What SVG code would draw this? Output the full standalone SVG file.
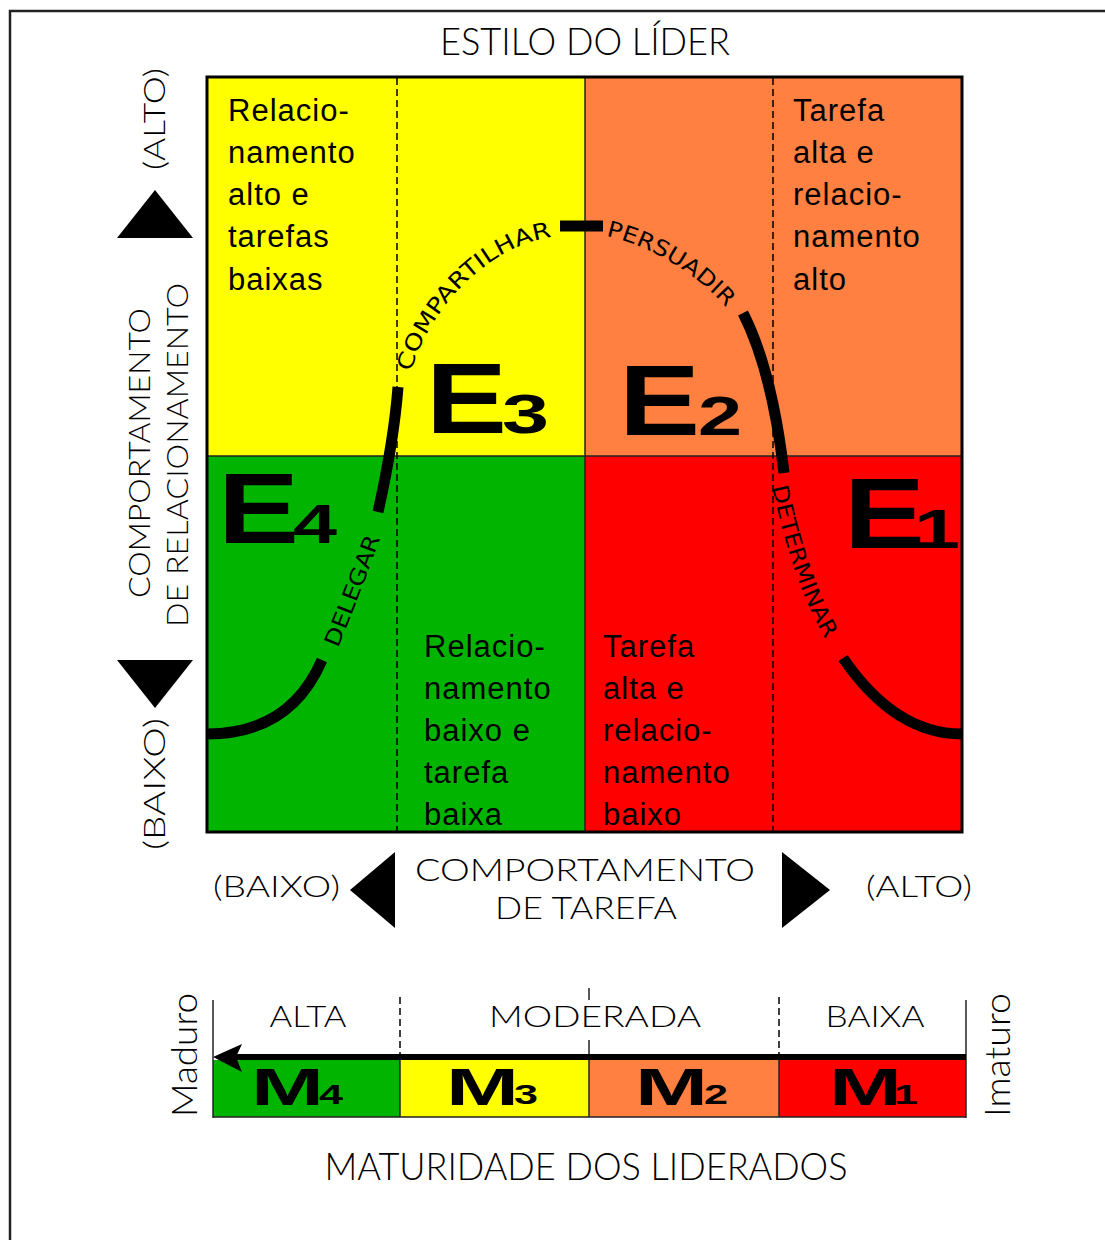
<svg xmlns="http://www.w3.org/2000/svg" width="1105" height="1240" viewBox="0 0 1105 1240">
<style>
.q{font-family:"Liberation Sans",Arial,sans-serif;font-size:31px;letter-spacing:1px;fill:#000}
.thin{font-family:Lato,"Liberation Sans",sans-serif;font-weight:300;fill:#000}
.big{font-family:"Liberation Sans",Arial,sans-serif;font-weight:bold;fill:#000}
.cv{font-family:"Liberation Sans Narrow","DejaVu Sans Condensed","Liberation Sans",sans-serif;font-size:22px;fill:#000}
.curve{fill:none;stroke:#000;stroke-width:11}
.dash{stroke:#000;stroke-width:1.5;stroke-dasharray:7 4}
.div{stroke:#222;stroke-width:1.5}
</style>
<defs>
<path id="pDel" d="M338,648 Q358,600 384,528"/>
<path id="pComp" d="M411,372 C425,320 480,245 558,236"/>
<path id="pPers" d="M606,236 C650,245 700,275 730,312"/>
<path id="pDet" d="M772,487 C785,545 800,600 835,655"/>
</defs>
<rect width="1105" height="1240" fill="#fff"/>
<path d="M10,1240 V11 H1105" fill="none" stroke="#222" stroke-width="2.5"/>
<text class="thin" x="585" y="55" text-anchor="middle" font-size="38" textLength="290" lengthAdjust="spacingAndGlyphs">ESTILO DO LÍDER</text>

<g id="quadrant-e3">
<rect x="207" y="77" width="378" height="379" fill="#FFFF00"/>
<text class="q" x="228"><tspan y="121">Relacio-</tspan><tspan x="228" y="163">namento</tspan><tspan x="228" y="205">alto e</tspan><tspan x="228" y="247">tarefas</tspan><tspan x="228" y="290">baixas</tspan></text>
</g>
<g id="quadrant-e2">
<rect x="585" y="77" width="377" height="379" fill="#FF8040"/>
<text class="q" x="793"><tspan y="121">Tarefa</tspan><tspan x="793" y="163">alta e</tspan><tspan x="793" y="205">relacio-</tspan><tspan x="793" y="247">namento</tspan><tspan x="793" y="290">alto</tspan></text>
</g>
<g id="quadrant-e4">
<rect x="207" y="456" width="378" height="376" fill="#00B400"/>
<text class="q" x="424"><tspan y="657">Relacio-</tspan><tspan x="424" y="699">namento</tspan><tspan x="424" y="741">baixo e</tspan><tspan x="424" y="783">tarefa</tspan><tspan x="424" y="825">baixa</tspan></text>
</g>
<g id="quadrant-e1">
<rect x="585" y="456" width="377" height="376" fill="#FF0000"/>
<text class="q" x="603"><tspan y="657">Tarefa</tspan><tspan x="603" y="699">alta e</tspan><tspan x="603" y="741">relacio-</tspan><tspan x="603" y="783">namento</tspan><tspan x="603" y="825">baixo</tspan></text>
</g>
<g id="grid-lines">
<line class="div" x1="585" y1="77" x2="585" y2="832"/>
<line class="div" x1="207" y1="456" x2="962" y2="456"/>
<line class="dash" x1="397" y1="78" x2="397" y2="831"/>
<line class="dash" x1="773" y1="78" x2="773" y2="831"/>
<rect x="207" y="77" width="755" height="755" fill="none" stroke="#000" stroke-width="3"/>
</g>

<g id="label-e3"><text class="big" x="426" y="433" font-size="100" textLength="81" lengthAdjust="spacingAndGlyphs">E</text><text class="big" x="502" y="433" font-size="56" textLength="47" lengthAdjust="spacingAndGlyphs">3</text></g>
<g id="label-e2"><text class="big" x="619" y="435" font-size="100" textLength="81" lengthAdjust="spacingAndGlyphs">E</text><text class="big" x="698" y="435" font-size="56" textLength="44" lengthAdjust="spacingAndGlyphs">2</text></g>
<g id="label-e4"><text class="big" x="218" y="543" font-size="100" textLength="81" lengthAdjust="spacingAndGlyphs">E</text><text class="big" x="293" y="543" font-size="56" textLength="44" lengthAdjust="spacingAndGlyphs">4</text></g>
<g id="label-e1"><text class="big" x="844" y="548" font-size="100" textLength="81" lengthAdjust="spacingAndGlyphs">E</text><text class="big" x="914" y="548" font-size="56" textLength="46" lengthAdjust="spacingAndGlyphs">1</text></g>

<g id="connectors">
<path class="curve" d="M207,734 Q290,734 322,660"/>
<path class="curve" d="M378,512 Q394,440 398,387"/>
<path class="curve" d="M560,226 L603,226"/>
<path class="curve" d="M743,313 Q772,370 784,473"/>
<path class="curve" d="M843,658 Q895,734 962,734"/>
<text class="cv"><textPath href="#pDel" textLength="118" lengthAdjust="spacingAndGlyphs">DELEGAR</textPath></text>
<text class="cv"><textPath href="#pComp" textLength="205" lengthAdjust="spacingAndGlyphs">COMPARTILHAR</textPath></text>
<text class="cv"><textPath href="#pPers" textLength="142" lengthAdjust="spacingAndGlyphs">PERSUADIR</textPath></text>
<text class="cv"><textPath href="#pDet" textLength="162" lengthAdjust="spacingAndGlyphs">DETERMINAR</textPath></text>
</g>

<g id="axis-relacionamento">
<polygon points="155,190 193,238 117,238" fill="#000"/>
<polygon points="117,660 193,660 155,708" fill="#000"/>
<text class="thin" font-size="30" text-anchor="middle" transform="translate(165,119) rotate(-90)" textLength="102" lengthAdjust="spacingAndGlyphs">(ALTO)</text>
<text class="thin" font-size="30" text-anchor="middle" transform="translate(165,784) rotate(-90)" textLength="132" lengthAdjust="spacingAndGlyphs">(BAIXO)</text>
<text class="thin" font-size="30" text-anchor="middle" transform="translate(150,453) rotate(-90)" textLength="290" lengthAdjust="spacingAndGlyphs">COMPORTAMENTO</text>
<text class="thin" font-size="30" text-anchor="middle" transform="translate(188,455) rotate(-90)" textLength="344" lengthAdjust="spacingAndGlyphs">DE RELACIONAMENTO</text>
</g>

<g id="axis-tarefa">
<polygon points="395,852 395,928 350,890" fill="#000"/>
<polygon points="782,852 782,928 830,890" fill="#000"/>
<text class="thin" x="213" y="897" font-size="30" textLength="127" lengthAdjust="spacingAndGlyphs">(BAIXO)</text>
<text class="thin" x="866" y="897" font-size="30" textLength="106" lengthAdjust="spacingAndGlyphs">(ALTO)</text>
<text class="thin" x="585" y="881" font-size="32" text-anchor="middle" textLength="340" lengthAdjust="spacingAndGlyphs">COMPORTAMENTO</text>
<text class="thin" x="586" y="919" font-size="32" text-anchor="middle" textLength="182" lengthAdjust="spacingAndGlyphs">DE TAREFA</text>
</g>

<g id="maturity-bar">
<rect x="213" y="1060" width="187" height="57" fill="#00B400"/>
<rect x="400" y="1060" width="189" height="57" fill="#FFFF00"/>
<rect x="589" y="1060" width="190" height="57" fill="#FF8040"/>
<rect x="779" y="1060" width="187" height="57" fill="#FF0000"/>
<line class="div" x1="213" y1="1000" x2="213" y2="1118"/>
<line class="div" x1="966" y1="1000" x2="966" y2="1118"/>
<line class="div" x1="213" y1="1117" x2="966" y2="1117"/>
<line class="div" x1="400" y1="1060" x2="400" y2="1117"/>
<line class="div" x1="589" y1="1040" x2="589" y2="1117"/>
<line class="div" x1="589" y1="988" x2="589" y2="1000"/>
<line class="div" x1="779" y1="1060" x2="779" y2="1117"/>
<line class="dash" x1="400" y1="997" x2="400" y2="1058"/>
<line class="dash" x1="779" y1="997" x2="779" y2="1058"/>
<rect x="232" y="1054" width="734" height="6" fill="#000"/>
<polygon points="213,1057 242,1044 236,1057 242,1072" fill="#000"/>
<text class="thin" x="308" y="1027" font-size="30" text-anchor="middle" textLength="77" lengthAdjust="spacingAndGlyphs">ALTA</text>
<text class="thin" x="595" y="1027" font-size="30" text-anchor="middle" textLength="212" lengthAdjust="spacingAndGlyphs">MODERADA</text>
<text class="thin" x="875" y="1027" font-size="30" text-anchor="middle" textLength="99" lengthAdjust="spacingAndGlyphs">BAIXA</text>
<text class="big" x="251" y="1105" font-size="52" textLength="73" lengthAdjust="spacingAndGlyphs">M</text><text class="big" x="319" y="1104" font-size="27" textLength="24" lengthAdjust="spacingAndGlyphs">4</text>
<text class="big" x="446" y="1105" font-size="52" textLength="73" lengthAdjust="spacingAndGlyphs">M</text><text class="big" x="514" y="1104" font-size="27" textLength="24" lengthAdjust="spacingAndGlyphs">3</text>
<text class="big" x="635" y="1105" font-size="52" textLength="73" lengthAdjust="spacingAndGlyphs">M</text><text class="big" x="704" y="1104" font-size="27" textLength="24" lengthAdjust="spacingAndGlyphs">2</text>
<text class="big" x="829" y="1105" font-size="52" textLength="73" lengthAdjust="spacingAndGlyphs">M</text><text class="big" x="894" y="1104" font-size="27" textLength="24" lengthAdjust="spacingAndGlyphs">1</text>
<text class="thin" font-size="36" text-anchor="middle" transform="translate(197,1055) rotate(-90)" textLength="124" lengthAdjust="spacingAndGlyphs">Maduro</text>
<text class="thin" font-size="36" text-anchor="middle" transform="translate(1010,1055) rotate(-90)" textLength="124" lengthAdjust="spacingAndGlyphs">Imaturo</text>
</g>
<text class="thin" x="586" y="1180" font-size="38" text-anchor="middle" textLength="523" lengthAdjust="spacingAndGlyphs">MATURIDADE DOS LIDERADOS</text>
</svg>
